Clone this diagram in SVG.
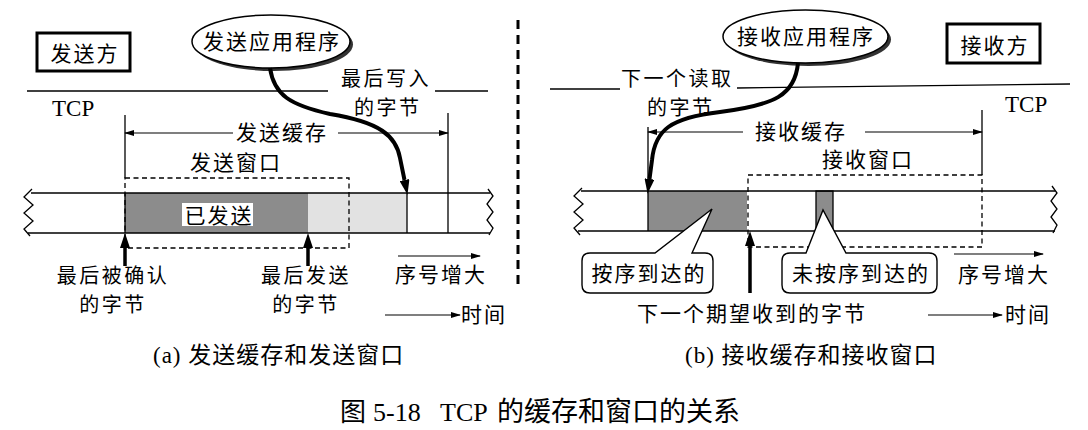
<svg xmlns="http://www.w3.org/2000/svg" width="1088" height="430" viewBox="0 0 1088 430">
<defs>
<marker id="sm" viewBox="0 0 10 6" refX="9" refY="3" markerWidth="10" markerHeight="6" markerUnits="userSpaceOnUse" orient="auto"><path d="M0,0 L10,3 L0,6 z" fill="#000"/></marker>
<marker id="bg" viewBox="0 0 15 10" refX="0" refY="5" markerWidth="15" markerHeight="10" markerUnits="userSpaceOnUse" orient="auto"><path d="M0,0 L15,5 L0,10 z" fill="#000"/></marker>
<style>
.ln{stroke:#000;stroke-width:1.3;fill:none}
.dim{stroke:#000;stroke-width:1.2;fill:none;marker-end:url(#sm)}
.dash{stroke:#000;stroke-width:1.3;fill:none;stroke-dasharray:5 3.5}
.thick{stroke:#000;stroke-width:3.5;fill:none;marker-end:url(#bg)}
.curve{stroke:#000;stroke-width:4;fill:none;marker-end:url(#bg)}
.dark{fill:#8c8c8c}
.light{fill:#e2e2e2}
.box{fill:#fff;stroke:#000;stroke-width:3}
.ell{fill:#fff;stroke:#000;stroke-width:1.5}
.shadow{fill:#333}
.callout{fill:#fff;stroke:#000;stroke-width:1.4}
text{fill:#000}
.c{font-family:"Noto Sans CJK SC",sans-serif;font-size:21px;letter-spacing:2px}
.c2{font-family:"Noto Sans CJK SC",sans-serif;font-size:20px;letter-spacing:2.5px}
.r{font-family:"Liberation Serif",serif;font-size:23px}
.cap{font-family:"Noto Sans CJK SC",sans-serif;font-size:23px;letter-spacing:1px}
</style>
</defs>
<rect x="0" y="0" width="1088" height="430" fill="#fff"/>

<!-- ===== Sender (a) ===== -->
<g id="sender-box"><rect class="box" x="37" y="33" width="93" height="38"/><text class="c" x="85" y="61" text-anchor="middle">发送方</text></g>
<g id="sender-tcp-layer">
<line class="ln" x1="27" y1="91" x2="328" y2="91"/><line class="ln" x1="435" y1="91" x2="488" y2="91"/>
<text class="r" x="52" y="116">TCP</text>
</g>
<g id="send-buffer-bar">
<rect class="dark" x="125" y="193" width="183" height="40"/>
<rect class="light" x="308" y="193" width="99" height="40"/>
<line class="ln" x1="31" y1="193" x2="490" y2="193"/><line class="ln" x1="28" y1="233" x2="490" y2="233"/>
<line class="ln" x1="125" y1="193" x2="125" y2="233"/>
<line class="ln" x1="407" y1="193" x2="407" y2="233"/>
<polyline class="ln" points="32,189 24,197 33,205 24,213 33,221 24,229 30,236"/>
<polyline class="ln" points="488,189 493,196 487,204 493,212 487,220 493,228 489,235"/>
<rect x="182" y="203" width="71" height="23" fill="#fff"/>
<text class="c" x="219" y="223" text-anchor="middle">已发送</text>
</g>
<g id="send-window"><rect class="dash" x="125" y="178" width="224" height="70"/><text class="c" x="190" y="170">发送窗口</text></g>
<g id="send-buffer-dim">
<line class="ln" x1="125" y1="115" x2="125" y2="178"/>
<line class="ln" x1="448" y1="113" x2="448" y2="233"/>
<line class="dim" x1="233" y1="133" x2="125" y2="133"/>
<line class="dim" x1="338" y1="133" x2="448" y2="133"/>
<text class="c" x="236" y="140">发送缓存</text>
</g>
<g id="send-app"><ellipse class="shadow" cx="274" cy="44.5" rx="79" ry="26.5"/><ellipse class="ell" cx="271" cy="41.5" rx="79" ry="26.5"/><text class="c" x="272" y="49" text-anchor="middle">发送应用程序</text></g>
<g id="label-last-written"><text class="c2"><tspan x="341" y="86">最后写入</tspan><tspan x="354" y="115">的字节</tspan></text></g>
<g id="label-last-acked"><text class="c2" text-anchor="middle"><tspan x="113" y="283">最后被确认</tspan><tspan x="113" y="312">的字节</tspan></text></g>
<g id="label-last-sent"><text class="c2" text-anchor="middle"><tspan x="306" y="283">最后发送</tspan><tspan x="306" y="312">的字节</tspan></text></g>
<g id="label-seq-a"><text class="c" x="395" y="282">序号增大</text></g>
<g id="label-time-a"><text class="c" x="461" y="322">时间</text></g>

<!-- divider -->
<line x1="518" y1="20" x2="518" y2="288" stroke="#000" stroke-width="3" stroke-dasharray="9 6"/>

<!-- ===== Receiver (b) ===== -->
<g id="receiver-box"><rect class="box" x="947" y="24" width="93" height="39"/><text class="c" x="995" y="53" text-anchor="middle">接收方</text></g>
<g id="receiver-tcp-layer">
<line class="ln" x1="550" y1="89" x2="620" y2="89"/><line class="ln" x1="737" y1="88" x2="1070" y2="84"/>
<text class="r" x="1005" y="112">TCP</text>
</g>
<g id="recv-buffer-bar">
<rect class="dark" x="648" y="191" width="99" height="40"/>
<rect class="dark" x="816" y="191" width="17" height="40" stroke="#000" stroke-width="1.3"/>
<line class="ln" x1="581" y1="191" x2="1055" y2="191"/><line class="ln" x1="578" y1="231" x2="1055" y2="231"/>
<line class="ln" x1="648" y1="191" x2="648" y2="231"/>
<polyline class="ln" points="582,188 574,196 583,204 574,212 583,220 574,228 580,235"/>
<polyline class="ln" points="1052,186 1057,193 1051,201 1057,209 1051,217 1057,225 1053,233"/>
</g>
<g id="recv-window"><rect class="dash" x="748" y="175" width="234" height="72"/><text class="c" x="822" y="167">接收窗口</text></g>
<g id="recv-buffer-dim">
<line class="ln" x1="648" y1="127" x2="648" y2="191"/>
<line class="ln" x1="982" y1="110" x2="982" y2="175"/>
<line class="dim" x1="743" y1="132" x2="648" y2="132"/>
<line class="dim" x1="865" y1="132" x2="982" y2="132"/>
<text class="c" x="755" y="139">接收缓存</text>
</g>
<g id="recv-app"><ellipse class="shadow" cx="808.5" cy="39.5" rx="82.5" ry="26.5"/><ellipse class="ell" cx="805.5" cy="36.5" rx="82.5" ry="26.5"/><text class="c" x="806" y="44" text-anchor="middle">接收应用程序</text></g>
<g id="label-next-read"><text class="c2"><tspan x="621" y="86">下一个读取</tspan><tspan x="647" y="115">的字节</tspan></text></g>
<g id="callout-in-order"><path class="callout" d="M590,253 L655,253 L712,209 L692,253 L705,253 Q713,253 713,261 L713,285 Q713,293 705,293 L590,293 Q582,293 582,285 L582,261 Q582,253 590,253 Z"/><text class="c" x="649" y="281" text-anchor="middle">按序到达的</text></g>
<g id="callout-out-of-order"><path class="callout" d="M790,253 L806,253 L823,210 L846,253 L929,253 Q937,253 937,261 L937,285 Q937,293 929,293 L790,293 Q782,293 782,285 L782,261 Q782,253 790,253 Z"/><text class="c" x="861" y="281" text-anchor="middle">未按序到达的</text></g>
<g id="label-next-expected"><text class="c" x="637" y="321">下一个期望收到的字节</text></g>
<g id="label-seq-b"><text class="c" x="958" y="282">序号增大</text></g>
<g id="label-time-b"><text class="c" x="1005" y="322">时间</text></g>

<!-- connectors -->
<g id="connectors">
<path class="curve" d="M270,68 C274,95 290,105 330,114 C380,122 396,136 400,158 L404.5,180"/>
<path class="curve" d="M798,63 C795,95 775,105 720,112 C670,118 655,130 652,160 L649.5,179"/>
<line class="thick" x1="125" y1="266" x2="125" y2="248"/>
<line class="thick" x1="308" y1="266" x2="308" y2="248"/>
<line class="thick" x1="750" y1="293" x2="750" y2="246"/>
<line class="dim" x1="398" y1="256" x2="480" y2="256"/>
<line class="dim" x1="385" y1="315" x2="460" y2="315"/>
<line class="dim" x1="954" y1="254" x2="1043" y2="254"/>
<line class="dim" x1="928" y1="315" x2="1002" y2="315"/>
</g>

<!-- captions -->
<g id="caption-a"><text class="cap" x="153" y="363"><tspan class="r">(a) </tspan>发送缓存和发送窗口</text></g>
<g id="caption-b"><text class="cap" x="685" y="363"><tspan class="r">(b) </tspan>接收缓存和接收窗口</text></g>
<g id="title"><text class="cap" x="340" y="421" style="font-size:26px;letter-spacing:0"><tspan>图</tspan><tspan class="r" x="373" style="font-size:26px">5-18</tspan><tspan class="r" x="440" style="font-size:26px">TCP</tspan><tspan x="497" style="font-size:27px">的缓存和窗口的关系</tspan></text></g>
</svg>
